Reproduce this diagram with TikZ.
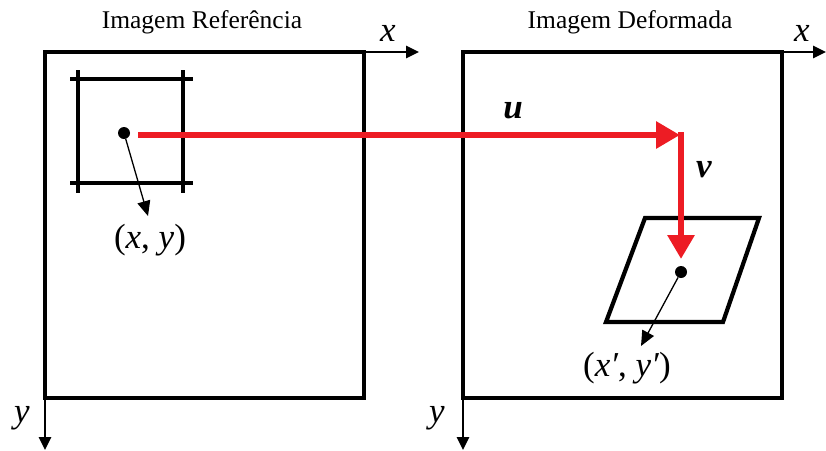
\documentclass[tikz,border=0pt]{standalone}
\usepackage{fontspec}
\setmainfont{Liberation Serif}
\usetikzlibrary{arrows.meta}
\definecolor{redarrow}{RGB}{237,28,36}
\tikzset{
  frame/.style={line width=3.8pt, line join=miter},
  axis/.style={line width=2.6pt, -{Triangle[length=13pt,width=12pt]}},
  gridline/.style={line width=4.5pt},
  disp/.style={redarrow, line width=6.5pt, -{Triangle[length=24pt,width=26pt]}},
  thin/.style={line width=1.3pt, -{Triangle[length=15pt,width=13pt]}},
  dot/.style={circle, fill=black, inner sep=0pt, minimum size=12pt},
  title/.style={font=\fontsize{25.5}{28}\selectfont, inner sep=0pt},
  axlabel/.style={font=\fontsize{35}{38}\selectfont\itshape, inner sep=0pt},
  vlabel/.style={font=\fontsize{35}{38}\selectfont\bfseries\itshape, inner sep=0pt},
  coordlabel/.style={font=\fontsize{35}{38}\selectfont, inner sep=0pt}
}
\begin{document}
\begin{tikzpicture}[x=1pt,y=-1pt]
\useasboundingbox (0,0) rectangle (826,450);
% left frame
\coordinate (L1) at (45,52);
\coordinate (L2) at (364,398);
\coordinate (Lx) at (419,52);
\coordinate (Ly) at (45,450);
\draw[frame] (L1) rectangle (L2);
\draw[axis] (364,52) -- (Lx);
\draw[axis] (45,398) -- (Ly);
% right frame
\coordinate (R1) at (463,52);
\coordinate (R2) at (782,398);
\coordinate (Rx) at (826,52);
\coordinate (Ry) at (463,450);
\draw[frame] (R1) rectangle (R2);
\draw[axis] (782,52) -- (Rx);
\draw[axis] (463,398) -- (Ry);
% titles and axis labels
\node[title] (tL) at (202,22) {Imagem Referência};
\node[title] (tR) at (630,22) {Imagem Deformada};
\node[axlabel] (xL) at (388,33) {x};
\node[axlabel] (xR) at (802,33) {x};
\node[axlabel] (yL) at (22,418) {y};
\node[axlabel] (yR) at (437,418) {y};
% reference subset
\draw[gridline] (70,79) -- (193,79);
\draw[gridline] (70,183) -- (193,183);
\draw[gridline] (78,70) -- (78,193);
\draw[gridline] (183,70) -- (183,193);
\node[dot] (p) at (124,133) {};
% deformed subset
\draw[line width=4.2pt, line join=miter] (645,218) -- (759,218) -- (723,322) -- (606,322) -- cycle;
\node[dot] (q) at (681,272) {};
% displacement arrows
\coordinate (uS) at (138,135);
\coordinate (uE) at (680,135);
\coordinate (vS) at (681,132);
\coordinate (vE) at (681,259);
\draw[disp] (uS) -- (uE);
\draw[disp] (vS) -- (vE);
\node[vlabel] (u) at (513,111) {u};
\node[vlabel] (v) at (704,170) {v};
% position arrows and labels
\coordinate (pE) at (148,216);
\coordinate (qE) at (641,346);
\draw[thin] (p) -- (pE);
\draw[thin] (q) -- (qE);
\node[coordlabel] (pl) at (150,240) {(\textit{x}, \textit{y})};
\node[coordlabel] (ql) at (627,368) {(\textit{x′}, \textit{y′})};
\end{tikzpicture}
\end{document}
